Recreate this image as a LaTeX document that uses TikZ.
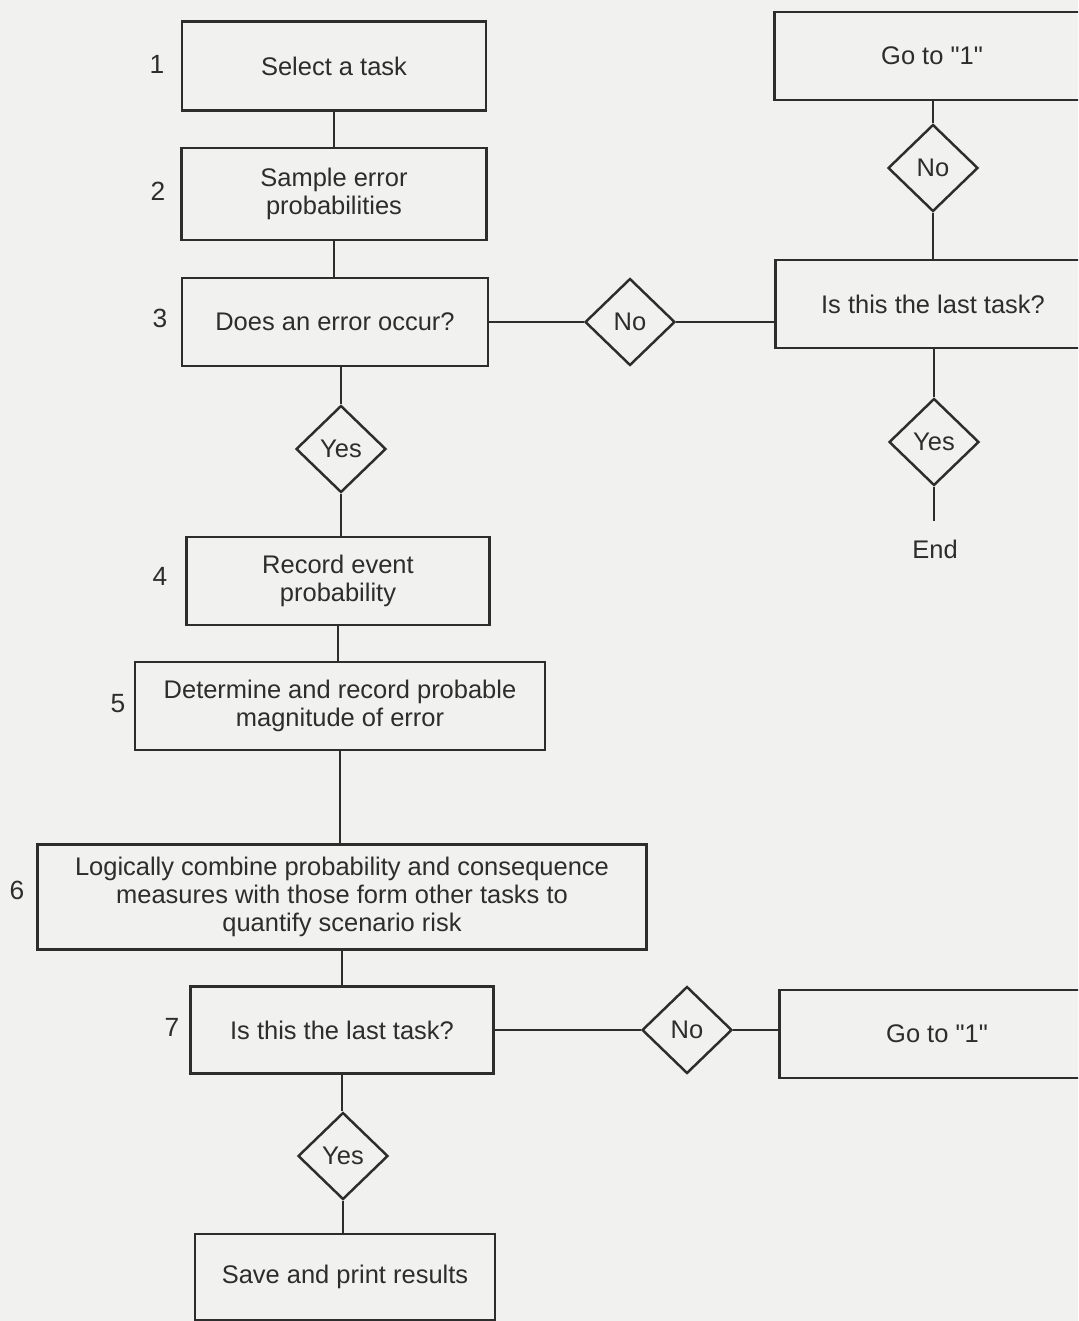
\documentclass[tikz,border=0pt]{standalone}
\usepackage{fontspec}
\setmainfont{Liberation Sans}[Ligatures=TeXOff]
\usetikzlibrary{shapes.geometric, positioning}
\definecolor{inkgray}{RGB}{45,45,45}
\definecolor{papergray}{RGB}{241,241,239}

\begin{document}
\begin{tikzpicture}[x=0.02cm, y=-0.02cm,
    box/.style={draw=inkgray, line width=1.6pt, fill=papergray, text=inkgray,
                align=center, inner sep=2pt, font=\fontsize{14.5}{16}\selectfont},
    choice/.style={draw=inkgray, diamond, line width=1.4pt, fill=papergray, text=inkgray,
                   inner sep=0pt, minimum width=1.8cm, minimum height=1.74cm,
                   font=\fontsize{14.5}{16}\selectfont},
    num/.style={text=inkgray, font=\fontsize{15}{16}\selectfont},
    link/.style={draw=inkgray, line width=1.4pt}]

    % paper
    \useasboundingbox (0,0) rectangle (1078,1321);
    \clip (0,0) rectangle (1078,1321);
    \fill[papergray] (0,0) rectangle (1078,1321);

    % main column
    \node[box, minimum width=6.08cm, minimum height=1.78cm] (b1) at (334,66) {Select a task};
    \node[box, minimum width=6.1cm, minimum height=1.84cm] (b2) at (334,194) {Sample error\\probabilities};
    \node[box, minimum width=6.12cm, minimum height=1.76cm] (b3) at (335,322) {Does an error occur?};
    \node[choice] (y1) at (341,449) {Yes};
    \node[box, minimum width=6.06cm, minimum height=1.76cm] (b4) at (338,581) {Record event\\probability};
    \node[box, minimum width=8.2cm, minimum height=1.76cm] (b5) at (340,706) {Determine and record probable\\magnitude of error};
    \node[box, minimum width=12.18cm, minimum height=2.1cm] (b6) at (342,897)
        {Logically combine probability and consequence\\measures with those form other tasks to\\quantify scenario risk};
    \node[box, minimum width=6.06cm, minimum height=1.74cm] (b7) at (342,1030) {Is this the last task?};
    \node[choice] (y2) at (343,1156) {Yes};
    \node[box, minimum width=6.0cm, minimum height=1.72cm] (save) at (345,1277) {Save and print results};

    % step numbers
    \node[num] (n1) at (157,64) {1};
    \node[num] (n2) at (158,191) {2};
    \node[num] (n3) at (160,318) {3};
    \node[num] (n4) at (160,576) {4};
    \node[num] (n5) at (118,704) {5};
    \node[num] (n6) at (17,890) {6};
    \node[num] (n7) at (172,1027) {7};

    % branches
    \node[choice] (no1) at (630,322) {No};
    \node[choice] (no3) at (687,1030) {No};
    \node[box, minimum width=6.3cm, minimum height=1.76cm] (goto1) at (932,56) {Go to "1"};
    \node[choice] (no2) at (933,168) {No};
    \node[box, minimum width=6.3cm, minimum height=1.76cm] (last) at (933,304) {Is this the last task?};
    \node[choice] (y3) at (934,442) {Yes};
    \node[text=inkgray, font=\fontsize{14.5}{16}\selectfont] (end) at (935,549) {End};
    \node[box, minimum width=6.3cm, minimum height=1.76cm] (goto2) at (937,1034) {Go to "1"};

    % connectors
    \draw[link] (b1) -- (b2);
    \draw[link] (b2.south) -- (b2.south |- b3.north);
    \draw[link] (b3.south -| y1.north) -- (y1.north);
    \draw[link] (y1.south) -- (y1.south |- b4.north);
    \draw[link] (b4.south) -- (b4.south |- b5.north);
    \draw[link] (b5.south) -- (b5.south |- b6.north);
    \draw[link] (b6.south) -- (b6.south |- b7.north);
    \draw[link] (b7.south) -- (b7.south |- y2.north);
    \draw[link] (y2.south) -- (y2.south |- save.north);
    \draw[link] (b3.east) -- (no1.west);
    \draw[link] (no1.east) -- (no1.east -| last.west);
    \draw[link] (goto1.south -| no2.north) -- (no2.north);
    \draw[link] (no2.south) -- (no2.south |- last.north);
    \draw[link] (last.south -| y3.north) -- (y3.north);
    \draw[link] (y3.south) -- ([yshift=0.25cm]end.north -| y3.south);
    \draw[link] (b7.east) -- (no3.west);
    \draw[link] (no3.east) -- (no3.east -| goto2.west);
\end{tikzpicture}
\end{document}
